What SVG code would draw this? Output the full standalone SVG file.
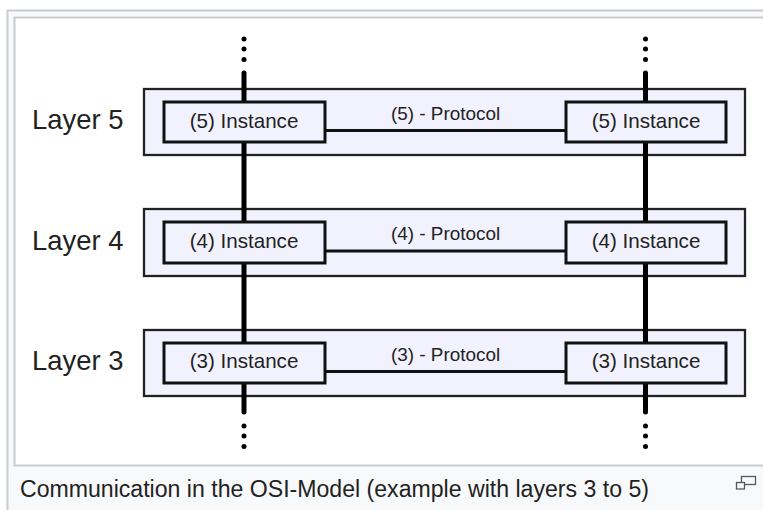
<svg xmlns="http://www.w3.org/2000/svg" width="763" height="510" viewBox="0 0 763 510">
<style>
text{font-family:"Liberation Sans",Arial,sans-serif;fill:#222}
.layer{fill:#f2f2ff;stroke:#222;stroke-width:2.300}
.inst{fill:#f2f2ff;stroke:#111;stroke-width:3}
.lab{font-size:27.400px}
.it{font-size:20.600px;text-anchor:middle}
.pr{font-size:18.900px;text-anchor:middle}
.bus{stroke:#000;stroke-width:5;fill:none;stroke-linecap:round}
.pl{stroke:#111;stroke-width:3;fill:none}
</style>
<rect width="763" height="510" fill="#fff"/>
<g id="frame">
<rect x="7" y="10" width="756" height="500" fill="#f8f9fa"/>
<path d="M763 10.500H7.500V510" fill="none" stroke="#c8ccd1" stroke-width="2"/>
<path d="M763 17.500H14.500V465.500H763" fill="#fff" stroke="#c8ccd1" stroke-width="2"/>
</g>
<g id="layer5"><rect class="layer" x="144" y="89" width="601" height="66"/><text class="lab" x="32" y="129">Layer 5</text></g>
<g id="layer4"><rect class="layer" x="144" y="209" width="601" height="67"/><text class="lab" x="32" y="250">Layer 4</text></g>
<g id="layer3"><rect class="layer" x="144" y="330" width="601" height="66"/><text class="lab" x="32" y="370">Layer 3</text></g>
<g id="connectors">
<path class="bus" d="M244 73V412M645.500 73V412"/>
<path class="pl" d="M325 130.500H566M325 251H566M325 371.500H566"/>
<g fill="#000">
<circle cx="244" cy="39" r="2.500"/><circle cx="244" cy="49" r="2.500"/><circle cx="244" cy="59.500" r="2.500"/>
<circle cx="645.500" cy="39" r="2.500"/><circle cx="645.500" cy="49" r="2.500"/><circle cx="645.500" cy="59.500" r="2.500"/>
<circle cx="244" cy="426" r="2.500"/><circle cx="244" cy="436" r="2.500"/><circle cx="244" cy="446.500" r="2.500"/>
<circle cx="645.500" cy="426" r="2.500"/><circle cx="645.500" cy="436" r="2.500"/><circle cx="645.500" cy="446.500" r="2.500"/>
</g>
</g>
<g id="i5l"><rect class="inst" x="164" y="102" width="161" height="40"/><text class="it" x="244" y="127.500">(5) Instance</text></g>
<g id="i5r"><rect class="inst" x="566" y="102" width="160" height="40"/><text class="it" x="646" y="127.500">(5) Instance</text></g>
<g id="i4l"><rect class="inst" x="164" y="222" width="161" height="41"/><text class="it" x="244" y="248">(4) Instance</text></g>
<g id="i4r"><rect class="inst" x="566" y="222" width="160" height="41"/><text class="it" x="646" y="248">(4) Instance</text></g>
<g id="i3l"><rect class="inst" x="164" y="343" width="161" height="40"/><text class="it" x="244" y="368">(3) Instance</text></g>
<g id="i3r"><rect class="inst" x="566" y="343" width="160" height="40"/><text class="it" x="646" y="368">(3) Instance</text></g>
<g id="protocols">
<text class="pr" x="445.500" y="120">(5) - Protocol</text>
<text class="pr" x="445.500" y="240">(4) - Protocol</text>
<text class="pr" x="445.500" y="361">(3) - Protocol</text>
</g>
<g id="caption">
<text x="20" y="497" font-size="23.100">Communication in the OSI-Model (example with layers 3 to 5)</text>
<g fill="none" stroke="#54595d" stroke-width="1.300">
<rect x="741.500" y="476.500" width="14" height="8"/>
<rect x="736.500" y="482.500" width="8" height="6.500" fill="#f8f9fa"/>
</g>
</g>
</svg>
